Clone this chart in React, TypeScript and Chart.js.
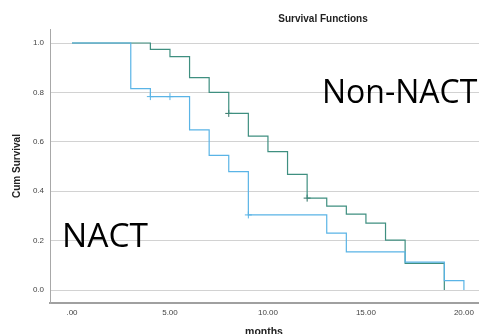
import React, { useEffect, useRef } from "react";
import { Chart, registerables } from "chart.js";

Chart.register(...registerables);

// Kaplan-Meier step points (months, cumulative survival)
const nonNactTimes = [0, 4, 5, 6, 7, 8, 9, 10, 11, 12, 13, 14, 15, 16, 17, 19];
const nonNactSurv = [1.0, 0.974, 0.945, 0.86, 0.8, 0.715, 0.623, 0.56, 0.468, 0.372, 0.34, 0.307, 0.271, 0.202, 0.108, 0.0];
const nactTimes = [0, 3, 4, 6, 7, 8, 9, 13, 14, 17, 19, 20];
const nactSurv = [1.0, 0.815, 0.783, 0.648, 0.545, 0.479, 0.304, 0.23, 0.154, 0.113, 0.038, 0.0];

// censored observations
const nonNactCensorTimes = [8, 12];
const nonNactCensorSurv = [0.715, 0.372];
const nactCensorTimes = [4, 5, 9];
const nactCensorSurv = [0.783, 0.783, 0.304];

const xTicks = [0, 5, 10, 15, 20];
const xTickLabels = [".00", "5.00", "10.00", "15.00", "20.00"];
const yTicks = [0, 0.2, 0.4, 0.6, 0.8, 1.0];
const yTickLabels = ["0.0", "0.2", "0.4", "0.6", "0.8", "1.0"];

const chartTitle = "Survival Functions";
const xTitle = "months";
const yTitle = "Cum Survival";
const nonNactLabel = "Non-NACT";
const nactLabel = "NACT";

const GREEN = "#3f8f80";
const BLUE = "#5ab4e6";

const zip = (xs: number[], ys: number[]) => xs.map((x, i) => ({ x, y: ys[i] }));

export default function App() {
  const ref = useRef<HTMLCanvasElement | null>(null);

  useEffect(() => {
    document.body.style.margin = "0";
    const canvas = ref.current;
    if (!canvas) return;

    const textPlugin = {
      id: "texts",
      afterDraw(chart: any) {
        const ctx = chart.ctx;
        ctx.save();
        ctx.fillStyle = "#222";
        ctx.textAlign = "center";
        ctx.textBaseline = "middle";
        ctx.font = "bold 10px 'Liberation Sans', Arial, sans-serif";
        ctx.fillText(chartTitle, 323, 19);
        ctx.font = "bold 10.5px 'Liberation Sans', Arial, sans-serif";
        ctx.fillText(xTitle, 264, 332.5);
        ctx.save();
        ctx.translate(17, 166);
        ctx.rotate(-Math.PI / 2);
        ctx.font = "bold 10px 'Liberation Sans', Arial, sans-serif";
        ctx.fillText(yTitle, 0, 0);
        ctx.restore();
        ctx.fillStyle = "#000";
        ctx.textAlign = "left";
        ctx.font = "32px 'Open Sans', 'Noto Sans', sans-serif";
        ctx.fillText(nonNactLabel, 322, 94);
        ctx.font = "33.5px 'Open Sans', 'Noto Sans', sans-serif";
        ctx.fillText(nactLabel, 62, 237);
        ctx.restore();
      },
    };

    const chart = new Chart(canvas, {
      type: "line",
      data: {
        datasets: [
          {
            label: "NACT",
            data: zip(nactTimes, nactSurv),
            stepped: true,
            borderColor: BLUE,
            borderWidth: 1.2,
            pointRadius: 0,
            fill: false,
          },
          {
            label: "Non-NACT",
            data: zip(nonNactTimes, nonNactSurv),
            stepped: true,
            borderColor: GREEN,
            borderWidth: 1.2,
            pointRadius: 0,
            fill: false,
          },
          {
            label: "NACT censored",
            data: zip(nactCensorTimes, nactCensorSurv),
            showLine: false,
            pointStyle: "cross",
            pointRadius: 3.5,
            borderColor: BLUE,
            borderWidth: 1,
          },
          {
            label: "Non-NACT censored",
            data: zip(nonNactCensorTimes, nonNactCensorSurv),
            showLine: false,
            pointStyle: "cross",
            pointRadius: 3.5,
            borderColor: "#2f6f62",
            borderWidth: 1,
          },
        ],
      },
      options: {
        animation: false,
        responsive: false,
        layout: { padding: { top: 29, right: 0, left: 0, bottom: 0 } },
        plugins: {
          legend: { display: false },
          title: { display: false },
          tooltip: { enabled: false },
        },
        scales: {
          x: {
            type: "linear",
            min: -1.122,
            max: 20.77,
            afterFit: (s: any) => {
              s.height = 31;
              s.paddingLeft = 0;
              s.paddingRight = 0;
            },
            afterBuildTicks: (s: any) => {
              s.ticks = xTicks.map((v) => ({ value: v }));
            },
            ticks: {
              padding: 5,
              color: "#444",
              font: { size: 8, family: "'Liberation Sans', Arial, sans-serif" },
              maxRotation: 0,
              callback: (v: any) => {
                const i = xTicks.indexOf(Number(v));
                return i >= 0 ? xTickLabels[i] : "";
              },
            },
            grid: { display: false, drawTicks: false },
            border: { display: true, color: "#a0a0a0", width: 2 },
          },
          y: {
            type: "linear",
            min: -0.0526,
            max: 1.0567,
            afterFit: (s: any) => {
              s.width = 50;
              s.paddingTop = 0;
              s.paddingBottom = 0;
            },
            afterBuildTicks: (s: any) => {
              s.ticks = yTicks.map((v) => ({ value: v }));
            },
            ticks: {
              padding: 6,
              color: "#444",
              font: { size: 8, family: "'Liberation Sans', Arial, sans-serif" },
              callback: (v: any) => {
                const i = yTicks.findIndex((t) => Math.abs(t - Number(v)) < 1e-6);
                return i >= 0 ? yTickLabels[i] : "";
              },
            },
            grid: { color: "#d2d2d2", lineWidth: 1, drawTicks: false },
            border: { display: true, color: "#a8a8a8", width: 1 },
          },
        },
      },
      plugins: [textPlugin],
    } as any);

    return () => chart.destroy();
  }, []);

  return (
    <div style={{ position: "absolute", left: 0, top: 0, width: 479, height: 334, overflow: "hidden" }}>
      <canvas ref={ref} width={484} height={334} />
    </div>
  );
}
